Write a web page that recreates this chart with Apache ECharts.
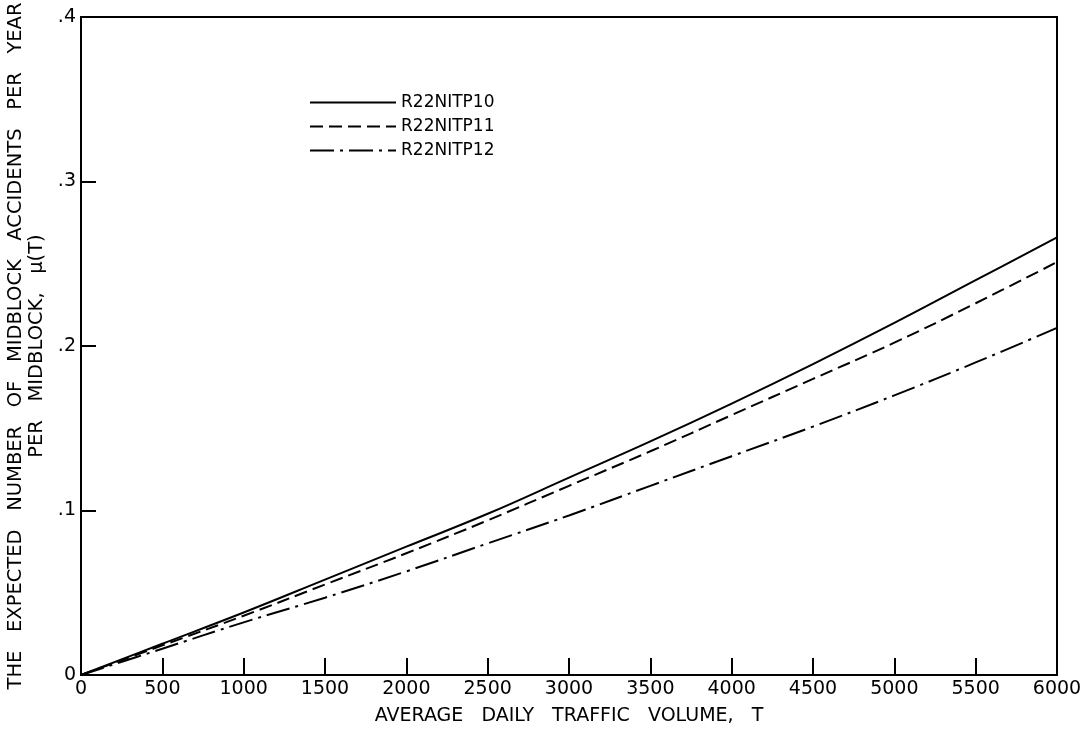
<!DOCTYPE html>
<html><head><meta charset="utf-8">
<script src="https://cdn.jsdelivr.net/npm/echarts@6/dist/echarts.min.js"></script>
<style>html,body{margin:0;padding:0;background:#fff}#c{width:1086px;height:740px}</style>
</head><body><div id="c"></div>
<script>
const volumes = [0, 500, 1000, 1500, 2000, 2500, 3000, 3500, 4000, 4500, 5000, 5500, 6000];
const r22nitp10 = [0, 0.019, 0.038, 0.058, 0.078, 0.098, 0.120, 0.142, 0.165, 0.189, 0.214, 0.240, 0.266];
const r22nitp11 = [0, 0.018, 0.036, 0.055, 0.074, 0.094, 0.115, 0.136, 0.158, 0.180, 0.202, 0.226, 0.251];
const r22nitp12 = [0, 0.016, 0.032, 0.047, 0.063, 0.080, 0.097, 0.115, 0.133, 0.151, 0.170, 0.190, 0.211];
const seriesNames = ['R22NITP10', 'R22NITP11', 'R22NITP12'];
const xTicks = [0, 500, 1000, 1500, 2000, 2500, 3000, 3500, 4000, 4500, 5000, 5500, 6000];
const yTicks = [0, 0.1, 0.2, 0.3, 0.4];

const font = 'DejaVu Sans';
const chart = echarts.init(document.getElementById('c'), null, {renderer: 'canvas'});
function pairs(arr) { return volumes.map((v, i) => [v, arr[i]]); }
const styles = [
  {type: 'solid'},
  {type: [13, 6]},
  {type: [24, 6, 3, 6]}
];
const dataSets = [r22nitp10, r22nitp11, r22nitp12];
chart.setOption({
  animation: false,
  backgroundColor: '#fff',
  grid: {left: 81, right: 29, top: 17, bottom: 65, show: true, borderColor: '#000', borderWidth: 2,
    backgroundColor: 'transparent', containLabel: false, outerBoundsMode: 'none'},
  legend: {
    orient: 'vertical', left: 304, top: 89, itemWidth: 86, itemHeight: 10, itemGap: 7,
    data: seriesNames,
    itemStyle: {opacity: 0},
    textStyle: {fontFamily: font, fontSize: 17, color: '#000'},
    inactiveColor: '#000'
  },
  xAxis: {
    type: 'value', min: 0, max: 6000, interval: 500,
    name: 'AVERAGE   DAILY   TRAFFIC   VOLUME,   T', nameLocation: 'middle', nameGap: 32,
    nameTextStyle: {fontFamily: font, fontSize: 19, color: '#000'},
    axisLine: {show: true, lineStyle: {color: '#000', width: 2}},
    axisTick: {show: true, inside: true, length: 17, lineStyle: {color: '#000', width: 2}},
    axisLabel: {fontFamily: font, fontSize: 19, color: '#000', margin: 5, showMaxLabel: true,
      formatter: v => xTicks.includes(v) ? String(v) : ''},
    splitLine: {show: false}
  },
  yAxis: {
    type: 'value', min: 0, max: 0.4, interval: 0.1,
    name: 'THE   EXPECTED   NUMBER   OF   MIDBLOCK   ACCIDENTS   PER   YEAR\nPER   MIDBLOCK,   \u03bc(T)',
    nameLocation: 'middle', nameRotate: 90, nameGap: 33,
    nameTextStyle: {fontFamily: font, fontSize: 19.5, color: '#000', lineHeight: 21, align: 'center'},
    axisLine: {show: true, lineStyle: {color: '#000', width: 2}},
    axisTick: {show: true, inside: true, length: 15, lineStyle: {color: '#000', width: 2}},
    axisLabel: {fontFamily: font, fontSize: 19, color: '#000', margin: 5,
      formatter: v => { const t = yTicks.find(y => Math.abs(y - v) < 1e-9); if (t === undefined) return ''; return t === 0 ? '0' : '.' + Math.round(t * 10); }},
    splitLine: {show: false}
  },
  series: dataSets.map((d, i) => ({
    name: seriesNames[i], type: 'line', data: pairs(d), smooth: 0.4, showSymbol: false, symbol: 'none',
    lineStyle: Object.assign({color: '#000', width: 2}, styles[i]),
    itemStyle: {color: '#000'}
  }))
});
</script></body></html>
